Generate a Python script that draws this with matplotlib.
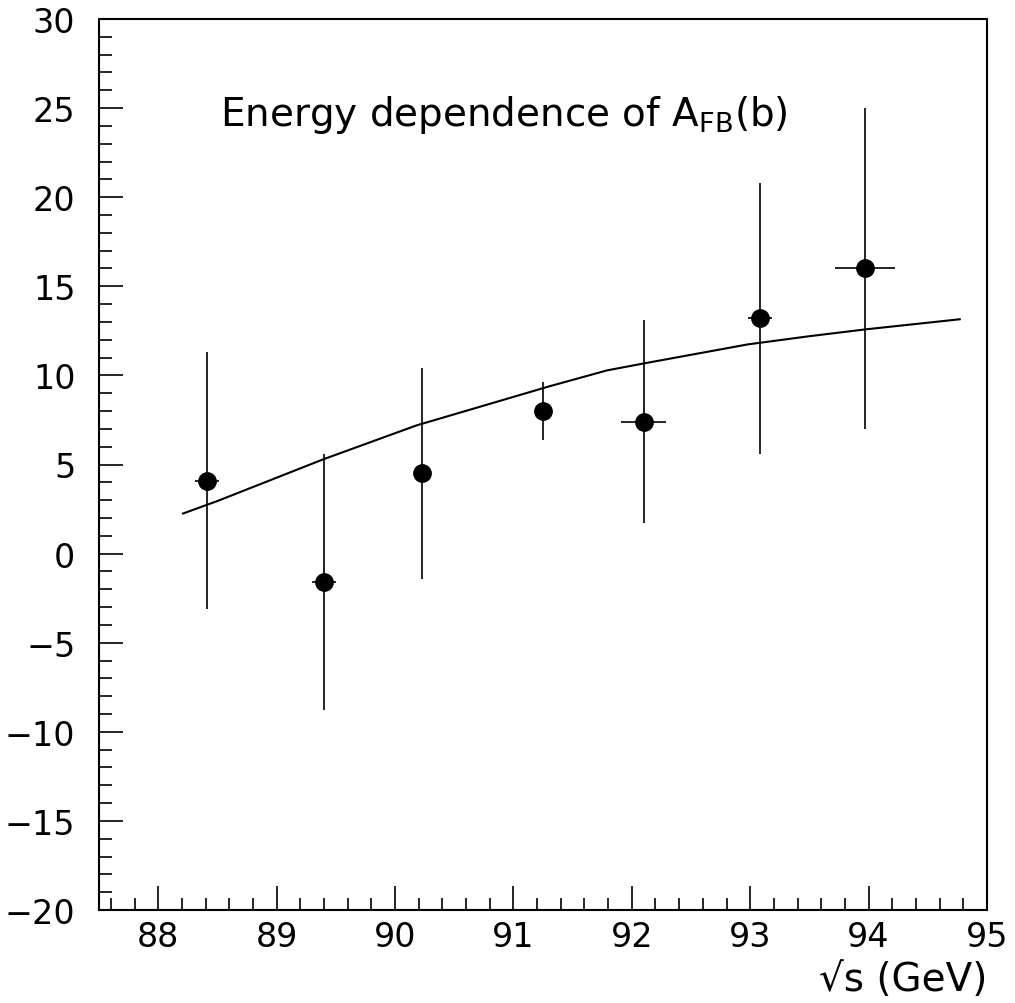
import numpy as np
import matplotlib
matplotlib.use('Agg')
import matplotlib.pyplot as plt
from matplotlib.ticker import MultipleLocator

# measured forward-backward asymmetry of b quarks vs centre-of-mass energy
sqrt_s = [88.41, 89.40, 90.23, 91.25, 92.10, 93.08, 93.97]
afb = [4.1, -1.6, 4.5, 8.0, 7.4, 13.2, 16.0]
afb_err = [7.2, 7.2, 5.9, 1.65, 5.7, 7.6, 9.0]
energy_err = [0.10, 0.10, 0.0, 0.0, 0.19, 0.10, 0.25]

# standard model prediction
sm_energy = [88.21, 88.50, 89.39, 90.18, 91.30, 91.79, 92.10, 92.98, 93.50, 93.97, 94.77]
sm_afb = [2.25, 2.95, 5.28, 7.19, 9.38, 10.28, 10.67, 11.74, 12.20, 12.58, 13.15]

y_ticks = list(range(-20, 31, 5))

plt.rcParams['font.family'] = 'DejaVu Sans'
fig = plt.figure(figsize=(10.15, 10.04), dpi=100)
ax = fig.add_axes([99 / 1015, 93 / 1004, 888 / 1015, 891 / 1004])

ax.plot(sm_energy, sm_afb, color='black', lw=1.5)
ax.errorbar(sqrt_s, afb, yerr=afb_err, xerr=energy_err, fmt='o', color='black',
            ms=12.5, elinewidth=1.2, capsize=0)

ax.set_xlim(87.5, 95)
ax.set_ylim(-20, 30)
ax.xaxis.set_major_locator(MultipleLocator(1))
ax.xaxis.set_minor_locator(MultipleLocator(0.2))
ax.yaxis.set_minor_locator(MultipleLocator(1))
ax.tick_params(which='both', direction='in', top=False, right=False, width=1.2,
               labelsize=24)
ax.tick_params(which='major', length=17)
ax.tick_params(which='minor', length=9)
ax.tick_params(axis='y', pad=17)
ax.tick_params(axis='x', pad=7)
ax.set_yticks(y_ticks)
ax.set_yticklabels([str(v).replace('-', '\u2212') for v in y_ticks])
for sp in ax.spines.values():
    sp.set_linewidth(1.5)

ax.text(220, 1004 - 115, r'Energy dependence of A$_{\mathregular{FB}}$(b)',
        transform=None, fontsize=28, va='center', ha='left')
fig.text(987 / 1015, 1 - 980 / 1004, '\u221as (GeV)', fontsize=28,
         ha='right', va='center')

fig.savefig('out.png', dpi=100)
